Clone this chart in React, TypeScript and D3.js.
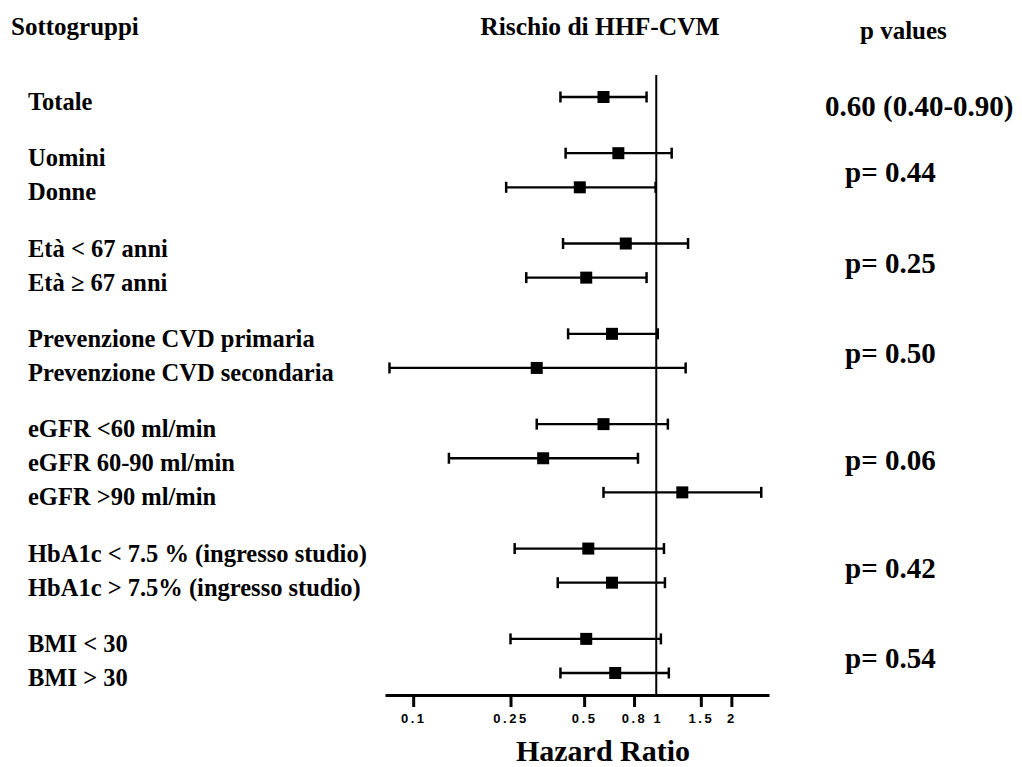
import React, { useRef, useEffect } from 'react';
import * as d3 from 'd3';

// subgroup rows (top to bottom)
const subgroups = [
  'Totale',
  'Uomini',
  'Donne',
  'Età < 67 anni',
  'Età ≥ 67 anni',
  'Prevenzione CVD primaria',
  'Prevenzione CVD secondaria',
  'eGFR <60 ml/min',
  'eGFR 60-90 ml/min',
  'eGFR >90 ml/min',
  'HbA1c < 7.5 % (ingresso studio)',
  'HbA1c > 7.5% (ingresso studio)',
  'BMI < 30',
  'BMI > 30',
];
const groupOf = [0, 1, 1, 2, 2, 3, 3, 4, 4, 4, 5, 5, 6, 6];
const hr = [0.60, 0.69, 0.48, 0.74, 0.51, 0.65, 0.32, 0.60, 0.34, 1.26, 0.52, 0.65, 0.51, 0.67];
const lower = [0.40, 0.42, 0.24, 0.41, 0.29, 0.43, 0.08, 0.32, 0.14, 0.60, 0.26, 0.39, 0.25, 0.40];
const upper = [0.90, 1.14, 0.98, 1.33, 0.90, 1.00, 1.30, 1.10, 0.83, 2.65, 1.06, 1.07, 1.03, 1.11];

// one label per group
const pLabels = ['0.60 (0.40-0.90)', 'p= 0.44', 'p= 0.25', 'p= 0.50', 'p= 0.06', 'p= 0.42', 'p= 0.54'];

const tickValues = [0.1, 0.25, 0.5, 0.8, 1, 1.5, 2];

const serif = '"Liberation Serif", "Times New Roman", serif';
const sans = '"Liberation Sans", Arial, sans-serif';

const App = () => {
  const ref = useRef(null);

  useEffect(() => {
    const svg = d3.select(ref.current);
    svg.selectAll('*').remove();

    const axisY = 695;
    const x = d3.scaleLog().domain([0.0767, 2.85]).range([385, 769]);

    // row position = row index + extra gap per group
    const gapUnit = 0.647;
    const pos = subgroups.map((_, i) => i + groupOf[i] * gapUnit);
    const y = d3.scaleLinear().domain([0, d3.max(pos)]).range([97, 673]);

    // headers
    svg.append('text').attr('x', 11).attr('y', 35).text('Sottogruppi')
      .attr('font-family', serif).attr('font-weight', 'bold').attr('font-size', 25);
    svg.append('text').attr('x', 600).attr('y', 35).attr('text-anchor', 'middle').text('Rischio di HHF-CVM')
      .attr('font-family', serif).attr('font-weight', 'bold').attr('font-size', 25.5);
    svg.append('text').attr('x', 860).attr('y', 39).text('p values')
      .attr('font-family', serif).attr('font-weight', 'bold').attr('font-size', 25);

    // reference line at HR = 1
    svg.append('line')
      .attr('x1', x(1) - 1.5).attr('x2', x(1) - 1.5)
      .attr('y1', 75).attr('y2', axisY)
      .attr('stroke', '#000').attr('stroke-width', 2);

    // x axis
    const axis = d3.axisBottom(x)
      .tickValues(tickValues)
      .tickFormat(d => String(d))
      .tickSize(12)
      .tickSizeOuter(0)
      .tickPadding(7);

    const ax = svg.append('g')
      .attr('transform', `translate(0,${axisY})`)
      .call(axis);
    ax.select('.domain').attr('stroke', '#000').attr('stroke-width', 3);
    ax.selectAll('.tick line').attr('stroke', '#000').attr('stroke-width', 3)
      .filter(d => d === 1).remove();
    ax.selectAll('.tick text')
      .attr('font-family', sans).attr('font-weight', 'bold').attr('font-size', 13)
      .attr('letter-spacing', 2.5).attr('fill', '#000');

    svg.append('text').attr('x', 603).attr('y', 761).attr('text-anchor', 'middle').text('Hazard Ratio')
      .attr('font-family', serif).attr('font-weight', 'bold').attr('font-size', 30);

    // rows
    const rows = svg.append('g');
    subgroups.forEach((label, i) => {
      const yy = y(pos[i]);
      rows.append('text').attr('x', 28).attr('y', yy + 13).text(label)
        .attr('font-family', serif).attr('font-weight', 'bold').attr('font-size', 24.5);

      rows.append('line')
        .attr('x1', x(lower[i])).attr('x2', x(upper[i]))
        .attr('y1', yy).attr('y2', yy)
        .attr('stroke', '#000').attr('stroke-width', 2.3);
      [lower[i], upper[i]].forEach(v => {
        rows.append('line')
          .attr('x1', x(v)).attr('x2', x(v))
          .attr('y1', yy - 5.5).attr('y2', yy + 5.5)
          .attr('stroke', '#000').attr('stroke-width', 2.5);
      });
      rows.append('rect')
        .attr('x', x(hr[i]) - 6).attr('y', yy - 6)
        .attr('width', 12).attr('height', 12)
        .attr('fill', '#000');
    });

    // p values, centred on each group
    pLabels.forEach((p, g) => {
      const ys = pos.filter((_, i) => groupOf[i] === g).map(v => y(v));
      const cy = d3.mean(ys);
      svg.append('text')
        .attr('x', g === 0 ? 825 : 845)
        .attr('y', (g === 0 ? cy + 19 : cy + 12))
        .text(p)
        .attr('font-family', serif).attr('font-weight', 'bold').attr('font-size', 29);
    });
  }, []);

  return (
    <div>
      <svg ref={ref} width={1022} height={767} style={{ position: 'absolute', left: 0, top: 0 }}></svg>
    </div>
  );
};

export default App;
